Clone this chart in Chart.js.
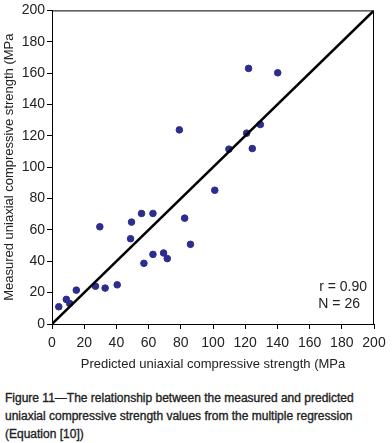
<!DOCTYPE html>
<html>
<head>
<meta charset="utf-8">
<script src="https://cdn.jsdelivr.net/npm/chart.js@4/dist/chart.umd.min.js"></script>
<style>
  body { margin: 0; background: #fff; width: 392px; height: 443px; position: relative; overflow: hidden; }
  #wrap { position: absolute; left: 0; top: 0; width: 392px; height: 380px; }
  #caption {
    position: absolute; left: 5px; top: 390px; width: 385px;
    font-family: "Liberation Sans", Arial, sans-serif; font-size: 12px; font-weight: normal;
    -webkit-text-stroke: 0.35px #222;
    line-height: 17.8px; color: #222;
  }
</style>
</head>
<body>
<div id="wrap"><canvas id="myChart"></canvas></div>
<div id="caption">Figure 11—The relationship between the measured and predicted uniaxial compressive strength values from the multiple regression (Equation [10])</div>
<script>
// values (MPa)
const predicted = [4.2, 8.9, 11, 15.1, 27, 29.7, 33, 40.5, 48.8, 49.4, 55.6, 57.1, 62.7,
  62.7, 69.3, 71.6, 79.1, 82.4, 86, 101.1, 109.9, 120.9, 122.1, 124.4, 129.4, 140.2];
const measured = [11, 15.7, 13.1, 21.6, 24.1, 62, 22.9, 25, 54.4, 65, 70.5, 38.7, 70.5,
  44.4, 45.3, 41.7, 123.8, 67.5, 50.8, 85.3, 111.5, 121.7, 163, 111.9, 127.2, 160.2];
const lineX = [0, 200];
const lineY = [0, 200];
const statLabels = ["r = 0.90", "N = 26"];

const points = predicted.map((v, i) => ({ x: v, y: measured[i] }));
const diagonal = lineX.map((v, i) => ({ x: v, y: lineY[i] }));

// box around the plot + r / N text
const frameAndStats = {
  id: "frameAndStats",
  afterDraw(chart) {
    const { ctx, chartArea } = chart;
    ctx.save();
    ctx.strokeStyle = "#000";
    ctx.lineWidth = 1;
    ctx.strokeRect(chartArea.left + 0.5, chartArea.top + 0.5, chartArea.width - 1, chartArea.height);
    ctx.fillStyle = "#222";
    ctx.font = "14px 'Liberation Sans', Arial, sans-serif";
    ctx.textAlign = "right";
    ctx.textBaseline = "middle";
    ctx.fillText(statLabels[0], chartArea.right - 7, chartArea.bottom - 37);
    ctx.fillText(statLabels[1], chartArea.right - 14, chartArea.bottom - 20);
    ctx.restore();
  }
};

const tickFont = { family: "'Liberation Sans', Arial, sans-serif", size: 14 };
const titleFont = { family: "'Liberation Sans', Arial, sans-serif", size: 13 };

const barCanvas = document.getElementById("myChart");
const chart = new Chart(barCanvas, {
  type: "scatter",
  data: {
    datasets: [
      {
        data: points,
        backgroundColor: "#2c2e8e",
        borderColor: "#2c2e8e",
        pointRadius: 3.3,
        order: 2
      },
      {
        type: "line",
        data: diagonal,
        borderColor: "#000",
        borderWidth: 2.5,
        pointRadius: 0,
        order: 1
      }
    ]
  },
  options: {
    responsive: true,
    maintainAspectRatio: false,
    animation: false,
    layout: { padding: { top: 9, right: 18, left: 0, bottom: 8 } },
    plugins: {
      legend: { display: false },
      tooltip: { enabled: false }
    },
    scales: {
      x: {
        type: "linear",
        min: 0,
        max: 200,
        ticks: { stepSize: 20, color: "#222", font: tickFont, padding: 6 },
        grid: { drawOnChartArea: false, drawTicks: true, tickLength: 5, color: "#000" },
        border: { color: "#000", width: 1 },
        title: {
          display: true,
          text: "Predicted uniaxial compressive strength (MPa",
          color: "#222",
          font: titleFont,
          padding: { top: 6, bottom: 0 }
        },
        afterFit(scale) { scale.height = 48; }
      },
      y: {
        type: "linear",
        min: 0,
        max: 200,
        ticks: { stepSize: 20, color: "#222", font: tickFont, padding: 2 },
        grid: { drawOnChartArea: false, drawTicks: true, tickLength: 5, color: "#000" },
        border: { color: "#000", width: 1 },
        title: {
          display: true,
          text: "Measured uniaxial compressive strength (MPa",
          color: "#222",
          font: titleFont,
          padding: { top: 2, bottom: 2 }
        },
        afterFit(scale) { scale.width = 52; }
      }
    }
  },
  plugins: [frameAndStats]
});
</script>
</body>
</html>
